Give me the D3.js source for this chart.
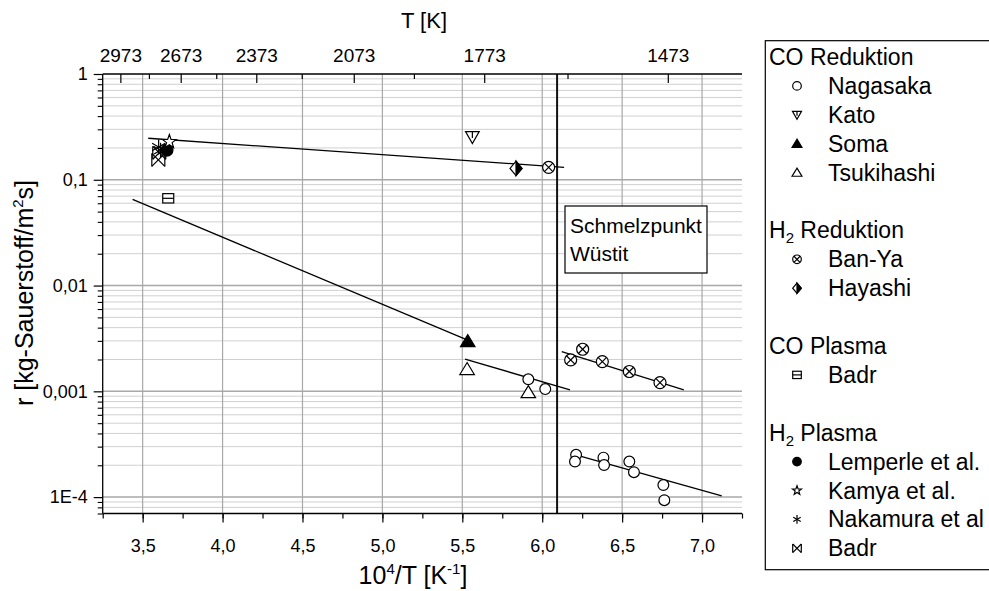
<!DOCTYPE html>
<html><head><meta charset="utf-8">
<script src="https://cdn.jsdelivr.net/npm/d3@7"></script>
<style>
body{margin:0;background:#fff}
svg{display:block}
text{font-family:"Liberation Sans",Arial,sans-serif;fill:#000}
</style>
</head><body>
<svg id="chart" width="989" height="591"></svg>
<script>
// ---------------- data ----------------
const xTickValues = [3.5, 4.0, 4.5, 5.0, 5.5, 6.0, 6.5, 7.0];
const xTickLabels = ["3,5", "4,0", "4,5", "5,0", "5,5", "6,0", "6,5", "7,0"];
const yTickValues = [1, 0.1, 0.01, 0.001, 0.0001];
const yTickLabels = ["1", "0,1", "0,01", "0,001", "1E-4"];
const topTickT = [2973, 2673, 2373, 2073, 1773, 1473];
const topMinorT = [2823, 2523, 2223, 1923, 1623];
const meltingPointX = 6.093;

const nagasakaX = [5.913, 6.019, 6.212, 6.205, 6.383, 6.387, 6.545, 6.574, 6.758, 6.764];
const nagasakaY = [0.0013, 0.00105, 0.000251, 0.000217, 0.000236, 0.000201, 0.000217, 0.000172, 0.00013, 0.0000935];
const katoX = [5.563];
const katoY = [0.255];
const somaX = [5.534];
const somaY = [0.00298];
const tsukihashiX = [5.53, 5.913];
const tsukihashiY = [0.00162, 0.00098];
const banYaX = [6.04, 6.178, 6.253, 6.376, 6.545, 6.737];
const banYaY = [0.131, 0.00198, 0.0025, 0.00191, 0.00154, 0.00121];
const hayashiX = [5.836];
const hayashiY = [0.128];
const coPlasmaBadrX = [3.66];
const coPlasmaBadrY = [0.0668];
const lemperleX = [3.652];
const lemperleY = [0.191];
const kamyaX = [3.667];
const kamyaY = [0.229];
const nakamuraX = [3.60, 3.612];
const nakamuraY = [0.204, 0.19];
const h2PlasmaBadrX = [3.598, 3.604];
const h2PlasmaBadrY = [0.154, 0.18];

const fitLineX = [[3.535, 6.137], [3.437, 5.53], [5.517, 6.174], [6.122, 6.886], [6.232, 7.123]];
const fitLineY = [[0.247, 0.131], [0.0654, 0.00306], [0.00202, 0.00103], [0.00237, 0.00103], [0.000245, 0.000103]];

const legendTitles = ["CO Reduktion", "H|2| Reduktion", "CO Plasma", "H|2| Plasma"];
const legendLabels = [["Nagasaka", "Kato", "Soma", "Tsukihashi"], ["Ban-Ya", "Hayashi"], ["Badr"], ["Lemperle et al.", "Kamya et al.", "Nakamura et al", "Badr"]];
const legendSymbols = [["circle", "kato", "triFilled", "tri"], ["banya", "hayashi"], ["squareLine"], ["dot", "star", "asterisk", "bowX"]];

// ---------------- layout ----------------
const svg = d3.select("#chart");
const L = 102.7, R = 742, T = 74, B = 513.5;
const x = d3.scaleLinear().domain([3.25, 7.25]).range([L, R]);
const y = d3.scaleLog().domain([7e-5, 1]).range([B, T]);
const FONT = "Liberation Sans, Arial, sans-serif";

// grid: minor horizontal
const minorY = [];
for (let e = -5; e <= 0; e++) for (let m = 2; m <= 9; m++) { const v = m * Math.pow(10, e); if (v > 7e-5 && v < 1) minorY.push(v); }
const grid = svg.append("g");
grid.selectAll(".hmin").data(minorY).join("line")
  .attr("x1", L).attr("x2", R).attr("y1", d => y(d)).attr("y2", d => y(d))
  .attr("stroke", "#d0d0d0").attr("stroke-width", 1);
grid.selectAll(".hmaj").data(yTickValues.filter(v => v < 1)).join("line")
  .attr("x1", L).attr("x2", R).attr("y1", d => y(d)).attr("y2", d => y(d))
  .attr("stroke", "#a8a8a8").attr("stroke-width", 1.5);
grid.selectAll(".vmaj").data(xTickValues).join("line")
  .attr("x1", d => x(d)).attr("x2", d => x(d)).attr("y1", T).attr("y2", B)
  .attr("stroke", "#a8a8a8").attr("stroke-width", 1.2);

// melting point line
svg.append("line").attr("x1", x(meltingPointX)).attr("x2", x(meltingPointX))
  .attr("y1", T).attr("y2", B).attr("stroke", "#111").attr("stroke-width", 2);

// fit lines
fitLineX.forEach((xs, i) => {
  svg.append("line").attr("x1", x(xs[0])).attr("y1", y(fitLineY[i][0]))
    .attr("x2", x(xs[1])).attr("y2", y(fitLineY[i][1]))
    .attr("stroke", "#000").attr("stroke-width", 1.3);
});

// ---------------- axes ----------------
const xMinor = d3.range(3.25, 7.26, 0.25);
svg.append("g").attr("transform", `translate(0,${B})`)
  .call(d3.axisBottom(x).tickValues(xMinor).tickSize(5).tickFormat(""))
  .call(g => { g.select(".domain").attr("stroke-width", 1.3).attr("d", `M${L},0H${R}`); g.selectAll(".tick line").attr("stroke-width", 1.2); });
svg.append("g").attr("transform", `translate(0,${B})`)
  .call(d3.axisBottom(x).tickValues(xTickValues).tickSize(9).tickPadding(17).tickFormat((d, i) => xTickLabels[i]))
  .call(g => {
    g.select(".domain").remove();
    g.selectAll(".tick line").attr("stroke-width", 1.2);
    g.selectAll("text").attr("font-size", 18).attr("font-family", FONT);
  });

// left axis
svg.append("g").attr("transform", `translate(${L},0)`)
  .call(d3.axisLeft(y).tickValues(minorY).tickSize(5).tickFormat(""))
  .call(g => { g.select(".domain").attr("stroke-width", 1.3).attr("d", `M0,${B}V${T}`); g.selectAll(".tick line").attr("stroke-width", 1.1); });
svg.append("g").attr("transform", `translate(${L},0)`)
  .call(d3.axisLeft(y).tickValues(yTickValues).tickSize(9).tickPadding(6).tickFormat((d, i) => yTickLabels[i]))
  .call(g => {
    g.select(".domain").remove();
    g.selectAll(".tick line").attr("stroke-width", 1.2);
    g.selectAll("text").attr("font-size", 18).attr("font-family", FONT);
  });

// top axis (temperature)
const topAxisG = svg.append("g").attr("transform", `translate(0,${T})`);
topAxisG.append("line").attr("x1", L).attr("x2", R).attr("y1", 0).attr("y2", 0).attr("stroke", "#000").attr("stroke-width", 1.3);
topAxisG.selectAll(".tmaj").data(topTickT).join("line")
  .attr("x1", d => x(1e4 / d)).attr("x2", d => x(1e4 / d)).attr("y1", 0).attr("y2", 9)
  .attr("stroke", "#000").attr("stroke-width", 1.2);
topAxisG.selectAll(".tmin").data(topMinorT).join("line")
  .attr("x1", d => x(1e4 / d)).attr("x2", d => x(1e4 / d)).attr("y1", 0).attr("y2", 5)
  .attr("stroke", "#000").attr("stroke-width", 1.2);
topAxisG.selectAll(".tlab").data(topTickT).join("text")
  .attr("x", d => x(1e4 / d)).attr("y", -12).attr("text-anchor", "middle")
  .attr("font-size", 19).text(d => d);

// axis titles
svg.append("text").attr("x", 424).attr("y", 28).attr("text-anchor", "middle").attr("font-size", 22).text("T [K]");
const xt = svg.append("text").attr("x", 413).attr("y", 584).attr("text-anchor", "middle").attr("font-size", 25);
xt.append("tspan").text("10");
xt.append("tspan").attr("font-size", 15).attr("dy", -10).text("4");
xt.append("tspan").attr("dy", 10).text("/T [K");
xt.append("tspan").attr("font-size", 15).attr("dy", -10).text("-1");
xt.append("tspan").attr("dy", 10).text("]");
const yt = svg.append("text").attr("transform", "translate(33,293) rotate(-90)").attr("text-anchor", "middle").attr("font-size", 25);
yt.append("tspan").text("r [kg-Sauerstoff/m");
yt.append("tspan").attr("font-size", 15).attr("dy", -10).text("2");
yt.append("tspan").attr("dy", 10).text("s]");

// ---------------- symbols ----------------
function sym(g, type, cx, cy, s) {
  const sw = 1.2;
  const st = (sel, fill) => sel.attr("stroke", "#000").attr("stroke-width", sw).attr("fill", fill || "none");
  const line = (x1, y1, x2, y2) => st(g.append("line").attr("x1", x1).attr("y1", y1).attr("x2", x2).attr("y2", y2));
  switch (type) {
    case "circle": st(g.append("circle").attr("cx", cx).attr("cy", cy).attr("r", s), "#fff"); break;
    case "dot": st(g.append("circle").attr("cx", cx).attr("cy", cy).attr("r", s), "#000"); break;
    case "tri": case "triFilled":
      st(g.append("path").attr("d", `M${cx},${cy - s * 1.05}L${cx + s * 1.15},${cy + s * 0.85}L${cx - s * 1.15},${cy + s * 0.85}Z`), type === "tri" ? "#fff" : "#000"); break;
    case "kato":
      st(g.append("path").attr("d", `M${cx - s * 1.05},${cy - s * 0.8}L${cx + s * 1.05},${cy - s * 0.8}L${cx},${cy + s * 1.05}Z`), "#fff");
      line(cx, cy - s * 0.8, cx, cy + s * 0.2); break;
    case "banya":
      st(g.append("circle").attr("cx", cx).attr("cy", cy).attr("r", s), "#fff");
      line(cx - s * 0.707, cy - s * 0.707, cx + s * 0.707, cy + s * 0.707);
      line(cx - s * 0.707, cy + s * 0.707, cx + s * 0.707, cy - s * 0.707); break;
    case "hayashi":
      st(g.append("path").attr("d", `M${cx},${cy - s * 1.2}L${cx + s},${cy}L${cx},${cy + s * 1.2}L${cx - s},${cy}Z`), "#fff");
      st(g.append("path").attr("d", `M${cx},${cy - s * 1.2}L${cx + s},${cy}L${cx},${cy + s * 1.2}Z`), "#000"); break;
    case "squareLine":
      st(g.append("rect").attr("x", cx - s).attr("y", cy - s * 0.85).attr("width", 2 * s).attr("height", 1.7 * s), "#fff");
      line(cx - s, cy, cx + s, cy); break;
    case "star": {
      const pts = [];
      for (let k = 0; k < 10; k++) { const a = -Math.PI / 2 + k * Math.PI / 5; const r = k % 2 ? s * 0.45 : s * 1.1; pts.push([cx + r * Math.cos(a), cy + r * Math.sin(a)]); }
      st(g.append("path").attr("d", "M" + pts.map(p => p.join(",")).join("L") + "Z"), "#fff"); break;
    }
    case "asterisk":
      line(cx, cy - s, cx, cy + s);
      line(cx - s * 0.87, cy - s * 0.5, cx + s * 0.87, cy + s * 0.5);
      line(cx - s * 0.87, cy + s * 0.5, cx + s * 0.87, cy - s * 0.5); break;
    case "bowX":
      line(cx - s, cy - s, cx + s, cy + s);
      line(cx - s, cy + s, cx + s, cy - s);
      line(cx - s, cy - s, cx - s, cy + s);
      line(cx + s, cy - s, cx + s, cy + s); break;
  }
}

const series = [
  [coPlasmaBadrX, coPlasmaBadrY, "squareLine", 5.5],
  [h2PlasmaBadrX, h2PlasmaBadrY, "bowX", 6.5],
  [nakamuraX, nakamuraY, "asterisk", 7.5],
  [lemperleX, lemperleY, "dot", 6],
  [kamyaX, kamyaY, "star", 6.5],
  [katoX, katoY, "kato", 6.5],
  [hayashiX, hayashiY, "hayashi", 6],
  [banYaX, banYaY, "banya", 6],
  [tsukihashiX, tsukihashiY, "tri", 6.3],
  [somaX, somaY, "triFilled", 6.3],
  [nagasakaX, nagasakaY, "circle", 5.4]
];
const marks = svg.append("g");
series.forEach(([xs, ys, type, s]) => {
  xs.forEach((xv, i) => sym(marks.append("g"), type, x(xv), y(ys[i]), s));
});

// Schmelzpunkt box
svg.append("rect").attr("x", 565).attr("y", 206).attr("width", 142).attr("height", 67)
  .attr("fill", "#fff").attr("stroke", "#000").attr("stroke-width", 1.2);
svg.append("text").attr("x", 570).attr("y", 233).attr("font-size", 21).text("Schmelzpunkt");
svg.append("text").attr("x", 570).attr("y", 261).attr("font-size", 21).text("Wüstit");

// ---------------- legend ----------------
const lg = svg.append("g");
lg.append("rect").attr("x", 765.3).attr("y", 40.7).attr("width", 240).attr("height", 529)
  .attr("fill", "#fff").attr("stroke", "#000").attr("stroke-width", 1.2);
const lineH = 28.9;
let row = 0;
const baseY = 65;
legendTitles.forEach((t, gi) => {
  const yy = baseY + row * lineH;
  const tx = lg.append("text").attr("x", 769).attr("y", yy).attr("font-size", 23);
  const parts = t.split("|");
  tx.append("tspan").text(parts[0]);
  if (parts.length > 1) {
    tx.append("tspan").attr("font-size", 15).attr("dy", 5).text(parts[1]);
    tx.append("tspan").attr("dy", -5).text(parts[2]);
  }
  row++;
  legendLabels[gi].forEach((lab, li) => {
    const yl = baseY + row * lineH;
    sym(lg.append("g"), legendSymbols[gi][li], 797, yl - 8, 4.3);
    lg.append("text").attr("x", 828).attr("y", yl).attr("font-size", 23).text(lab);
    row++;
  });
  row++;
});
</script>
</body></html>
